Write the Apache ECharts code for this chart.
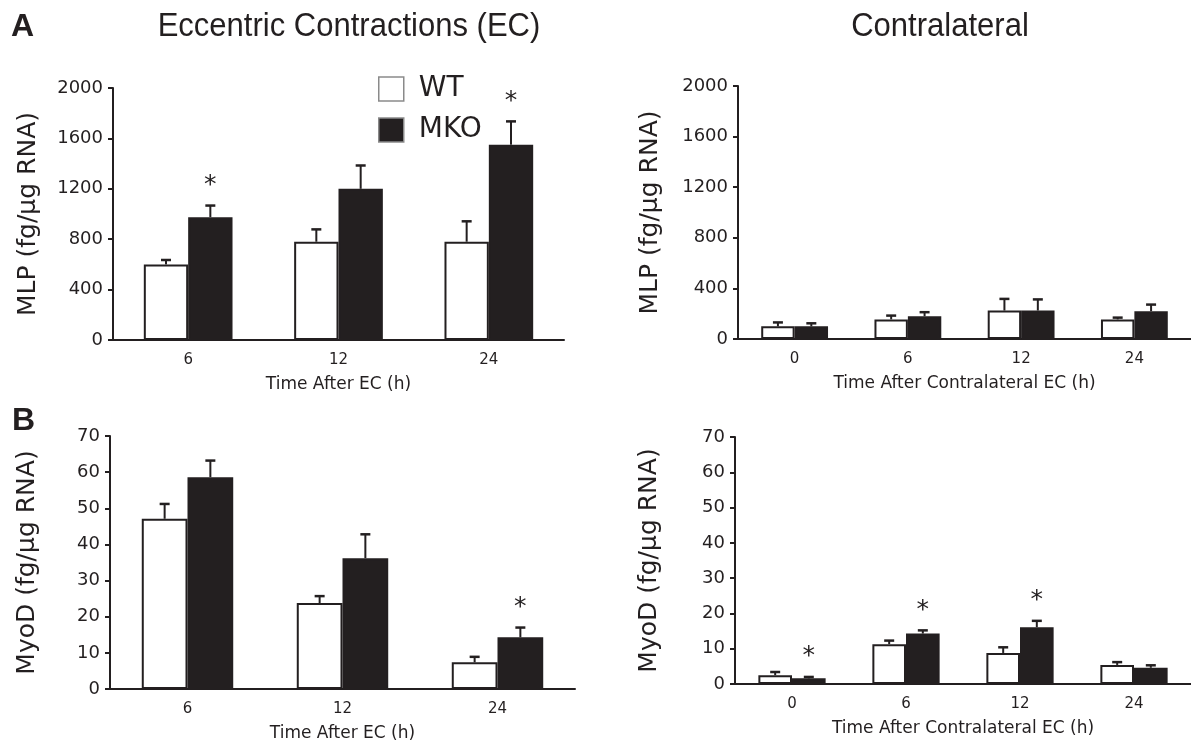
<!DOCTYPE html>
<html>
<head>
<meta charset="utf-8">
<script src="https://cdn.jsdelivr.net/npm/echarts@6/dist/echarts.min.js"></script>
<style>
  html, body { margin: 0; background: #fff; }
  #chartsDiv { width: 1191px; height: 745px; }
</style>
</head>
<body>
<div id="chartsDiv"></div>
<script>
// categories
var ecHours = ['6', '12', '24'];
var contraHours = ['0', '6', '12', '24'];

// MLP after EC
var mlpEcWT = [600, 780, 780];
var mlpEcWTErr = [35, 98, 162];
var mlpEcMKO = [975, 1200, 1550];
var mlpEcMKOErr = [92, 185, 185];
var mlpEcSig = [1, 0, 1];

// MLP contralateral
var mlpConWT = [100, 155, 225, 155];
var mlpConWTErr = [31, 30, 92, 14];
var mlpConMKO = [100, 180, 225, 220];
var mlpConMKOErr = [24, 32, 88, 52];
var mlpConSig = [0, 0, 0, 0];

// MyoD after EC
var myoEcWT = [47.1, 23.8, 7.4];
var myoEcWTErr = [4.1, 1.9, 1.5];
var myoEcMKO = [58.6, 36.2, 14.3];
var myoEcMKOErr = [4.6, 6.6, 2.7];
var myoEcSig = [0, 0, 1];

// MyoD contralateral
var myoConWT = [2.5, 11.3, 8.8, 5.4];
var myoConWTErr = [0.9, 1.0, 1.6, 0.8];
var myoConMKO = [1.6, 14.3, 16.1, 4.6];
var myoConMKOErr = [0.4, 0.9, 1.8, 0.7];
var myoConSig = [1, 1, 1, 0];

var INK = '#231f20';
var FONT = 'DejaVu Sans';
var BAR_FRAC = 0.295;

var realChart = echarts.init(document.getElementById('chartsDiv'));

var barSeries = function (name, values, idx, fill) {
  return {
    name: name,
    type: 'bar',
    xAxisIndex: idx,
    yAxisIndex: idx,
    barWidth: (BAR_FRAC * 100) + '%',
    barGap: '0%',
    itemStyle: { color: fill, borderColor: INK, borderWidth: 2 },
    silent: true,
    data: values
  };
};

// error bar (upper half only) + significance star
var errSeries = function (means, errs, sigs, side, idx) {
  return {
    type: 'custom',
    xAxisIndex: idx,
    yAxisIndex: idx,
    z: 5,
    silent: true,
    encode: { x: 0, y: 1 },
    data: means.map(function (m, i) {
      return [i, m, errs[i], sigs ? sigs[i] : 0];
    }),
    renderItem: function (params, api) {
      var i = api.value(0), m = api.value(1), e = api.value(2), s = api.value(3);
      var p0 = api.coord([i, m]);
      var p1 = api.coord([i, m + e]);
      var band = api.size([1, 0])[0];
      var x = p0[0] + side * band * BAR_FRAC / 2;
      var kids = [
        { type: 'line', shape: { x1: x, y1: p0[1], x2: x, y2: p1[1] }, style: { stroke: INK, lineWidth: 2 } },
        { type: 'line', shape: { x1: x - 5, y1: p1[1], x2: x + 5, y2: p1[1] }, style: { stroke: INK, lineWidth: 2.5 } }
      ];
      if (s) {
        kids.push({
          type: 'text', x: x, y: p1[1] - 20,
          style: { text: '*', fontSize: 25, fontFamily: FONT, fill: INK, align: 'center', verticalAlign: 'middle' }
        });
      }
      return { type: 'group', children: kids };
    }
  };
};

var xAx = function (idx, cats, name) {
  return {
    type: 'category',
    gridIndex: idx,
    data: cats,
    name: name,
    nameLocation: 'middle',
    nameGap: 36,
    nameTextStyle: { fontSize: 17, fontFamily: FONT, color: INK },
    axisLine: { lineStyle: { color: INK, width: 2 } },
    axisTick: { length: 4, lineStyle: { color: INK, width: 2 } },
    axisLabel: { fontSize: 15, fontFamily: FONT, color: INK, margin: 13 },
    splitLine: { show: false }
  };
};

var yAx = function (idx, max, interval, name, gap) {
  return {
    type: 'value',
    gridIndex: idx,
    min: 0,
    max: max,
    interval: interval,
    name: name,
    nameLocation: 'middle',
    nameGap: gap,
    nameTextStyle: { fontSize: 25, fontFamily: FONT, color: INK },
    axisLine: { show: true, lineStyle: { color: INK, width: 2 } },
    axisTick: { show: true, length: 5, lineStyle: { color: INK, width: 2 } },
    axisLabel: {
      fontSize: 18, fontFamily: FONT, color: INK, margin: 10,
      formatter: function (v) { return String(v); }
    },
    splitLine: { show: false }
  };
};

var option = {
  animation: false,
  backgroundColor: '#fff',
  textStyle: { fontFamily: FONT, color: INK },
  graphic: [
    { type: 'text', left: 11, top: 11, style: { text: 'A', fontSize: 32, fontWeight: 'bold', fontFamily: 'Liberation Sans', fill: INK } },
    { type: 'text', left: 12, top: 405, style: { text: 'B', fontSize: 32, fontWeight: 'bold', fontFamily: 'Liberation Sans', fill: INK } },
    { type: 'text', x: 349, y: 27, scaleX: 0.94, style: { text: 'Eccentric Contractions (EC)', fontSize: 33, fontFamily: 'Liberation Sans', fill: INK, align: 'center', verticalAlign: 'middle' } },
    { type: 'text', x: 940, y: 27, scaleX: 0.94, style: { text: 'Contralateral', fontSize: 33, fontFamily: 'Liberation Sans', fill: INK, align: 'center', verticalAlign: 'middle' } }
  ],
  legend: {
    data: ['WT', 'MKO'],
    orient: 'vertical',
    left: 378,
    top: 75,
    padding: 0,
    itemWidth: 25,
    itemHeight: 24,
    itemGap: 13,
    selectedMode: false,
    icon: 'rect',
    itemStyle: { borderWidth: 1.5, borderColor: '#8a8a8a' },
    textStyle: { fontSize: 28, lineHeight: 24, fontFamily: FONT, color: INK, padding: [0, 0, 0, 10] }
  },
  grid: [
    { left: 113, right: 627, top: 88, bottom: 405 },
    { left: 738, right: 0, top: 86, bottom: 406 },
    { left: 110, right: 616, top: 436, bottom: 56 },
    { left: 735, right: 0, top: 437, bottom: 61 }
  ],
  xAxis: [
    xAx(0, ecHours, 'Time After EC (h)'),
    xAx(1, contraHours, 'Time After Contralateral EC (h)'),
    xAx(2, ecHours, 'Time After EC (h)'),
    xAx(3, contraHours, 'Time After Contralateral EC (h)')
  ],
  yAxis: [
    yAx(0, 2000, 400, 'MLP (fg/µg RNA)', 72),
    yAx(1, 2000, 400, 'MLP (fg/µg RNA)', 75),
    yAx(2, 70, 10, 'MyoD (fg/µg RNA)', 70),
    yAx(3, 70, 10, 'MyoD (fg/µg RNA)', 73)
  ],
  series: [
    barSeries('WT', mlpEcWT, 0, '#fff'),
    barSeries('MKO', mlpEcMKO, 0, INK),
    errSeries(mlpEcWT, mlpEcWTErr, null, -1, 0),
    errSeries(mlpEcMKO, mlpEcMKOErr, mlpEcSig, 1, 0),

    barSeries('WT', mlpConWT, 1, '#fff'),
    barSeries('MKO', mlpConMKO, 1, INK),
    errSeries(mlpConWT, mlpConWTErr, null, -1, 1),
    errSeries(mlpConMKO, mlpConMKOErr, mlpConSig, 1, 1),

    barSeries('WT', myoEcWT, 2, '#fff'),
    barSeries('MKO', myoEcMKO, 2, INK),
    errSeries(myoEcWT, myoEcWTErr, null, -1, 2),
    errSeries(myoEcMKO, myoEcMKOErr, myoEcSig, 1, 2),

    barSeries('WT', myoConWT, 3, '#fff'),
    barSeries('MKO', myoConMKO, 3, INK),
    errSeries(myoConWT, myoConWTErr, null, -1, 3),
    errSeries(myoConMKO, myoConMKOErr, myoConSig, 1, 3)
  ]
};

realChart.setOption(option);
</script>
</body>
</html>
